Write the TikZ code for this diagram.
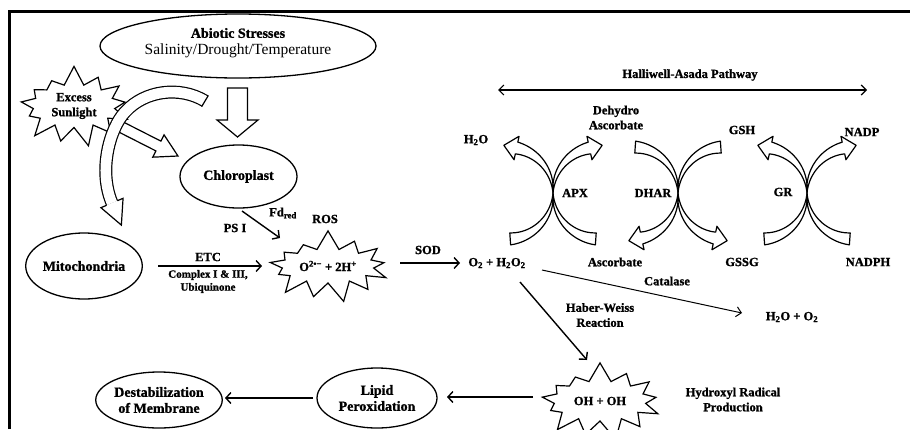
\documentclass[tikz,border=0pt]{standalone}
\usepackage{fontspec}
\setmainfont{Liberation Serif}[BoldFeatures={FakeBold=1.2}]
\usetikzlibrary{shapes.symbols,shapes.geometric,arrows.meta}
\newcommand{\bandhead}{%
 \filldraw[hollow] plot[domain=0:78,samples=30] ({-46+(46+6*\x/78)*cos(\x)},{(46+6*\x/78)*sin(\x)})
  -- ({-46+58*cos(78)},{58*sin(78)})
  -- ({-46+46*cos(78)-13*sin(78)},{46*sin(78)+13*cos(78)})
  -- ({-46+34*cos(78)},{34*sin(78)})
  -- plot[domain=78:0,samples=30] ({-46+(46-6*\x/78)*cos(\x)},{(46-6*\x/78)*sin(\x)}) -- cycle;}
\newcommand{\bandtail}{%
 \filldraw[hollow] plot[domain=0:86,samples=30] ({-46+(46+6*\x/86)*cos(\x)},{(46+6*\x/86)*sin(\x)})
  -- plot[domain=86:0,samples=30] ({-46+(46-6*\x/86)*cos(\x)},{(46-6*\x/86)*sin(\x)}) -- cycle;}
\newcommand{\qpart}[5]{\begin{scope}[shift={(#1,#2)},xscale=#3,yscale=#4]#5\end{scope}}
\begin{document}
\begin{tikzpicture}[x=1pt,y=-1pt,
  ell/.style={draw, ellipse, line width=1.3pt, inner sep=0pt, align=center, font=\fontsize{14}{16}\selectfont\bfseries},
  lab/.style={inner sep=0pt, align=center, font=\fontsize{12.5}{15}\selectfont\bfseries},
  burst/.style={starburst, draw, fill=white, line width=1.2pt, inner sep=0pt, align=center, starburst points=13, starburst point height=20pt, random starburst=7, font=\fontsize{12.5}{15}\selectfont\bfseries},
  hollow/.style={draw=black, fill=white, line width=1.2pt, line join=round},
  arr/.style={line width=1.4pt, -{Straight Barb[length=5pt,width=11pt]}}
]
\useasboundingbox (0,0) rectangle (910,429);
% frame
\draw[line width=3pt] (9,429) -- (9,11.5) -- (910,11.5);

% abiotic stresses
\node[ell, minimum width=276pt, minimum height=64pt] (abiotic) at (238,46) {};
\node[lab, font=\fontsize{14}{16}\selectfont\bfseries] (abT) at (238,33) {Abiotic Stresses};
\node[inner sep=0pt, font=\fontsize{15.5}{17}\selectfont] (abS) at (238,51) {Salinity/Drought/Temperature};

% down hollow arrow
\draw[hollow, line join=miter] (227.5,88) -- (247.5,88) -- (247.5,120) -- (258,120) -- (237.5,137) -- (217,120) -- (227.5,120) -- cycle;

% excess sunlight
\node[burst, minimum width=122pt, minimum height=83pt] (sun) at (74,106) {Excess\\Sunlight};

% straight hollow arrow sunlight -> chloroplast
\draw[hollow, line join=miter] (118.51,131.90) -- (155.91,150.92) -- (152.73,157.16) -- (178,156) -- (164.07,134.88) -- (160.89,141.12) -- (123.49,122.10) -- cycle;

% curved hollow arrow to mitochondria
\draw[line width=13pt, line cap=butt] (205,101) .. controls (180,86) and (145,90) .. (125,112) .. controls (110,128) and (98,170) .. (112,203);
\draw[line width=10.6pt, line cap=butt, white] (205,101) .. controls (180,86) and (145,90) .. (125,112) .. controls (110,128) and (98,170) .. (112,203);
\draw[line width=1.2pt] (201.66,106.57) -- (208.34,95.43);
\fill[white] (117.43,200.70) -- (123.05,198.31) -- (121.37,225.09) -- (100.95,207.69) -- (106.57,205.30) -- cycle;
\draw[line width=1.2pt, line join=miter] (117.43,200.70) -- (123.05,198.31) -- (121.37,225.09) -- (100.95,207.69) -- (106.57,205.30);

% chloroplast, mitochondria
\node[ell, minimum width=117pt, minimum height=63pt] (chloro) at (238.5,176.5) {Chloroplast};
\node[ell, minimum width=108pt, minimum height=66pt] (mito) at (84,266) {Mitochondria};

% ROS
\node[burst, minimum width=132pt, minimum height=74pt] (ros) at (328,266) {O\textsuperscript{2•−} + 2H\textsuperscript{+}};
\node[lab] (roslab) at (325,219) {ROS};
\node[lab] (psi) at (235,228) {PS I};
\node[lab] (fd) at (283,213) {Fd\textsubscript{red}};
\coordinate (psiS) at (242,211);
\coordinate (psiE) at (280,238);
\draw[arr] (psiS) -- (psiE);

% ETC
\coordinate (etcS) at (158,266);
\coordinate (etcE) at (262,266);
\draw[arr] (etcS) -- (etcE);
\node[lab] (etc) at (208,257) {ETC};
\node[lab, font=\fontsize{11}{13}\selectfont\bfseries] (cplx) at (208,281.5) {Complex I \& III,\\Ubiquinone};

% SOD
\coordinate (sodS) at (400,263);
\coordinate (sodE) at (460,263);
\draw[arr] (sodS) -- (sodE);
\node[lab] (sod) at (428,250) {SOD};
\node[lab] (o2) at (497,263) {O\textsubscript{2} + H\textsubscript{2}O\textsubscript{2}};

% Halliwell-Asada pathway
\node[lab] (hap) at (690,75) {Halliwell-Asada Pathway};
\coordinate (hL) at (498,90);
\coordinate (hR) at (867,90);
\draw[line width=1.2pt, {Straight Barb[length=5pt,width=10pt]}-{Straight Barb[length=5pt,width=10pt]}] (hL) -- (hR);

% cycles
\qpart{553}{193}{1}{-1}{\bandhead}
\qpart{553}{193}{1}{1}{\bandtail}
\qpart{553}{193}{-1}{-1}{\bandhead}
\qpart{553}{193}{-1}{1}{\bandtail}

\qpart{678}{193}{1}{-1}{\bandtail}
\qpart{678}{193}{1}{1}{\bandhead}
\qpart{678}{193}{-1}{-1}{\bandtail}
\qpart{678}{193}{-1}{1}{\bandhead}

\qpart{807}{193}{1}{-1}{\bandhead}
\qpart{807}{193}{1}{1}{\bandtail}
\qpart{807}{193}{-1}{-1}{\bandhead}
\qpart{807}{193}{-1}{1}{\bandtail}

\node[lab] (h2o) at (476,140) {H\textsubscript{2}O};
\node[lab] (dha) at (616,117.5) {Dehydro\\Ascorbate};
\node[lab] (apx) at (575,193) {APX};
\node[lab] (asc) at (615,262) {Ascorbate};
\node[lab] (dhar) at (653,193) {DHAR};
\node[lab] (gsh) at (742,130) {GSH};
\node[lab] (gssg) at (742,262) {GSSG};
\node[lab] (gr) at (783,192) {GR};
\node[lab] (nadp) at (862,132) {NADP};
\node[lab] (nadph) at (868,262) {NADPH};

% catalase
\coordinate (catS) at (542,270);
\coordinate (catE) at (742,313);
\draw[line width=1pt, -{Straight Barb[length=5pt,width=10pt]}] (catS) -- (catE);
\node[lab] (cat) at (667,281) {Catalase};
\node[lab] (h2oo2) at (792,317) {H\textsubscript{2}O + O\textsubscript{2}};

% Haber-Weiss
\coordinate (hwS) at (520,282);
\coordinate (hwE) at (587,360);
\draw[arr] (hwS) -- (hwE);
\node[lab] (hw) at (600,315) {Haber-Weiss\\Reaction};

% OH
\node[burst, minimum width=132pt, minimum height=80pt] (oh) at (600,401) {OH + OH};
\node[lab] (hyd) at (733,399.5) {Hydroxyl Radical\\Production};

% lipid, destabilization
\node[ell, minimum width=120pt, minimum height=60pt] (lipid) at (377,398) {Lipid\\Peroxidation};
\node[ell, minimum width=122pt, minimum height=56pt] (destab) at (159,400) {Destabilization\\of Membrane};
\coordinate (ohS) at (533,397);
\coordinate (lipE) at (447,397);
\draw[arr] (ohS) -- (lipE);
\coordinate (lipS) at (313,398);
\coordinate (desE) at (225,398);
\draw[arr] (lipS) -- (desE);
\end{tikzpicture}
\end{document}
